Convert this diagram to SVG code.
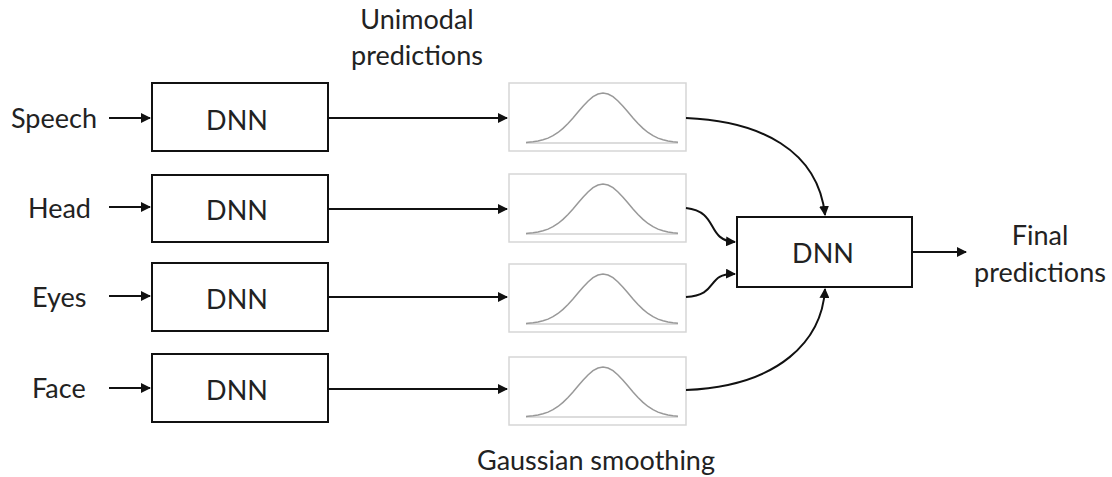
<svg xmlns="http://www.w3.org/2000/svg" width="1112" height="477" viewBox="0 0 1112 477">
<defs>
<style>
text{font-family:Lato,"Liberation Sans",sans-serif;font-size:27px;fill:#222}
.box{fill:#fff;stroke:#111;stroke-width:2}
.gbox{fill:#fff;stroke:#d6d6d6;stroke-width:1.5}
.curve{fill:none;stroke:#999;stroke-width:1.5}
.base{stroke:#d0d0d0;stroke-width:1.5}
.c{fill:none;stroke:#111;stroke-width:2;marker-end:url(#ah)}
</style>
<marker id="ah" viewBox="0 0 10 10" refX="9" refY="5" markerWidth="5" markerHeight="5" orient="auto" markerUnits="strokeWidth">
<path d="M0,0 L10,5 L0,10 z" fill="#111"/>
</marker>
<g id="gauss">
<rect class="gbox" x="0" y="0" width="177" height="68"/>
<line class="base" x1="17" y1="60" x2="169" y2="60"/>
<polyline class="curve" points="17,59.5 19,59.3 24,58.8 29,58.1 34,56.8 39,55.1 44,52.7 49,49.5 54,45.4 59,40.5 64,35 69,29.1 74,23.2 79,18 84,13.7 89,11 94,10 99,11 104,13.7 109,18 114,23.2 119,29.1 124,35 129,40.5 134,45.4 139,49.5 144,52.7 149,55.1 154,56.8 159,58.1 164,58.8 169,59.3"/>
</g>
</defs>
<text x="417" y="29" text-anchor="middle">Unimodal</text>
<text x="417" y="65" text-anchor="middle">predictions</text>
<text x="596" y="470" text-anchor="middle">Gaussian smoothing</text>
<text x="1040" y="245" text-anchor="middle">Final</text>
<text x="1040" y="282" text-anchor="middle">predictions</text>
<g id="speech"><text x="11" y="128">Speech</text><rect class="box" x="152" y="83" width="176" height="68"/><text x="237" y="130" text-anchor="middle">DNN</text></g>
<g id="head"><text x="28" y="218">Head</text><rect class="box" x="152" y="175" width="176" height="67"/><text x="237" y="220" text-anchor="middle">DNN</text></g>
<g id="eyes"><text x="32" y="307">Eyes</text><rect class="box" x="152" y="263" width="176" height="68"/><text x="237" y="309" text-anchor="middle">DNN</text></g>
<g id="face"><text x="32" y="398">Face</text><rect class="box" x="152" y="354" width="176" height="68"/><text x="237" y="400" text-anchor="middle">DNN</text></g>
<g id="g1"><use href="#gauss" x="509" y="83"/></g>
<g id="g2"><use href="#gauss" x="509" y="174"/></g>
<g id="g3"><use href="#gauss" x="509" y="264"/></g>
<g id="g4"><use href="#gauss" x="509" y="357"/></g>
<g id="fusion"><rect class="box" x="737" y="217" width="175" height="70"/><text x="823" y="263" text-anchor="middle">DNN</text></g>
<g id="connectors">
<line class="c" x1="109" y1="118" x2="150" y2="118"/>
<line class="c" x1="109" y1="207" x2="150" y2="207"/>
<line class="c" x1="109" y1="296" x2="150" y2="296"/>
<line class="c" x1="109" y1="388" x2="150" y2="388"/>
<line class="c" x1="328" y1="118" x2="507" y2="118"/>
<line class="c" x1="328" y1="209" x2="507" y2="209"/>
<line class="c" x1="328" y1="297" x2="507" y2="297"/>
<line class="c" x1="328" y1="389" x2="507" y2="389"/>
<path class="c" d="M686,118 C760,121 818,150 825,215"/>
<path class="c" d="M686,208 C720,212 705,240 735,242"/>
<path class="c" d="M686,297 C720,295 705,273 735,274"/>
<path class="c" d="M686,390 C780,386 822,340 825,289"/>
<line class="c" x1="912" y1="252" x2="966" y2="252"/>
</g>
</svg>
